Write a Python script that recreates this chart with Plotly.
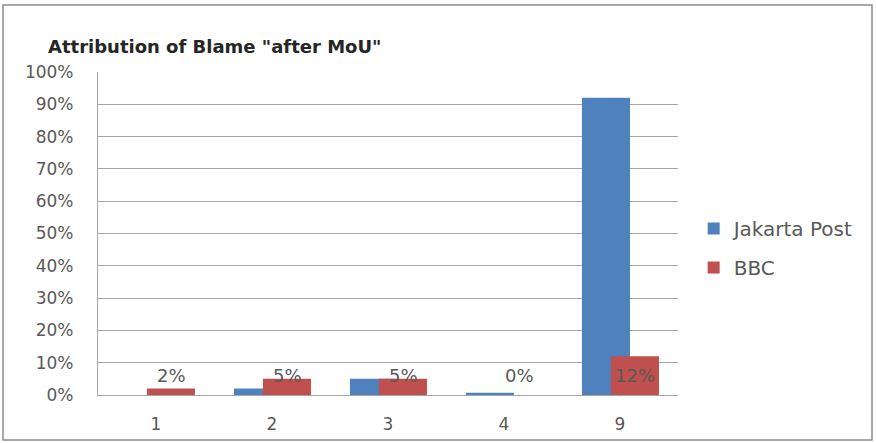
import plotly.graph_objects as go

# Categories and shares of blame attribution per source
categories = ["1", "2", "3", "4", "9"]
jakarta_post = [0.0, 0.02, 0.05, 0.007, 0.92]
bbc = [0.02, 0.05, 0.05, 0.0, 0.12]

series_names = ["Jakarta Post", "BBC"]
tick_values = [i / 10 for i in range(11)]
tick_labels = [f"{i * 10}%" for i in range(11)]

BLUE = "#4F81BD"
RED = "#C0504D"
GREY_TEXT = "#595959"
GRID = "#A6A6A6"
FONT = "DejaVu Sans"

fig = go.Figure()

bar_width = 0.414
fig.add_trace(go.Bar(
    x=categories, y=jakarta_post, name=series_names[0],
    marker=dict(color=BLUE, line=dict(width=0)),
    width=bar_width, offset=-0.328, legendgroup="a",
))
fig.add_trace(go.Bar(
    x=categories, y=bbc, name=series_names[1],
    marker=dict(color=RED, line=dict(width=0)),
    width=bar_width, offset=-0.078, legendgroup="b",
))

# BBC value labels, all on a common baseline above the small bars
for i, v in enumerate(bbc):
    fig.add_annotation(
        x=i, y=0.059, xref="x", yref="y",
        text=f"{round(v * 100)}%", showarrow=False,
        xshift=15, yanchor="middle",
        font=dict(family=FONT, size=18, color=GREY_TEXT),
    )

# Outer chart frame
fig.add_shape(
    type="rect", xref="paper", yref="paper",
    x0=-0.1638, x1=1.3345, y0=-0.1393, y1=1.2074,
    line=dict(color="#8C8C8C", width=1.5), fillcolor="rgba(0,0,0,0)",
    layer="below",
)

fig.update_layout(
    width=876, height=443,
    barmode="overlay",
    paper_bgcolor="white", plot_bgcolor="white",
    margin=dict(l=98, r=198, t=72, b=48, autoexpand=False),
    font=dict(family=FONT, size=17, color=GREY_TEXT),
    title=dict(
        text='<b>Attribution of Blame "after MoU"</b>',
        x=48 / 876, xanchor="left", xref="container",
        y=1 - 47 / 443, yanchor="middle", yref="container",
        font=dict(family=FONT, size=18, color="#262626"),
    ),
    legend=dict(
        x=1.027, xanchor="left", y=0.455, yanchor="middle",
        font=dict(family=FONT, size=20, color=GREY_TEXT),
        traceorder="grouped", tracegroupgap=10,
        bgcolor="rgba(0,0,0,0)",
    ),
    xaxis=dict(
        type="category", categoryorder="array", categoryarray=categories,
        range=[-0.5, 4.5], showgrid=False, showline=True,
        linecolor=GRID, linewidth=1.2, ticks="", ticklabelstandoff=13,
        tickfont=dict(family=FONT, size=17, color=GREY_TEXT),
        zeroline=False, automargin=False,
    ),
    yaxis=dict(
        range=[0, 1.0], tickvals=tick_values, ticktext=tick_labels,
        showgrid=True, gridcolor=GRID, gridwidth=1.2,
        showline=True, linecolor=GRID, linewidth=1.2,
        ticks="", ticklabelstandoff=20,
        tickfont=dict(family=FONT, size=17, color=GREY_TEXT),
        zeroline=False, automargin=False,
    ),
)

fig.write_html("out.html")
